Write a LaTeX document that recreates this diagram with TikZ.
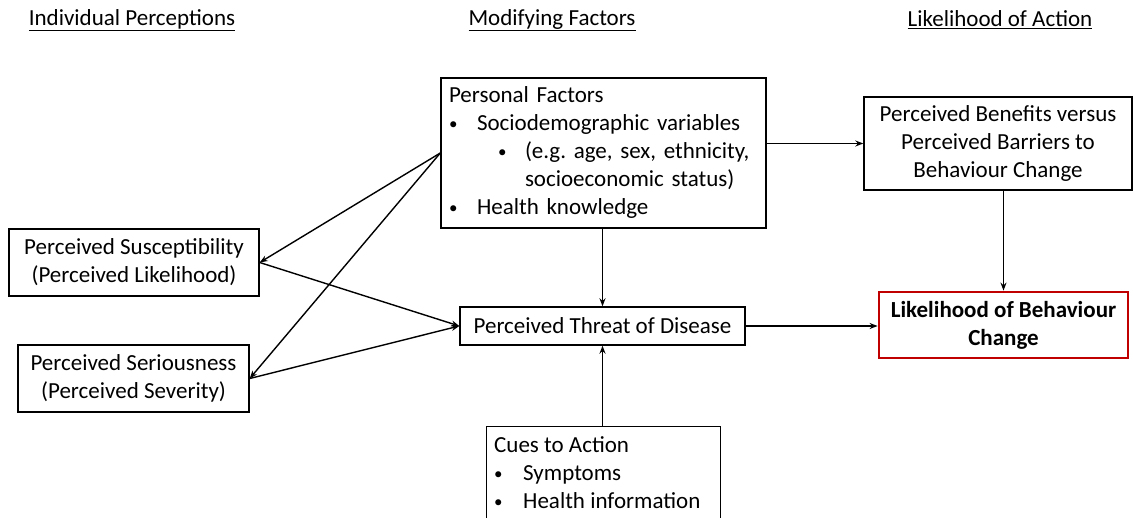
\documentclass[tikz,border=0pt]{standalone}
\usepackage{fontspec}
\setmainfont{Carlito}
\usetikzlibrary{arrows.meta,calc}
\newcommand\blt[1]{\makebox[#1pt][l]{\raisebox{1pt}{\fontsize{17}{17}\selectfont\textbullet}}}
\definecolor{hbmred}{RGB}{192,0,0}
\begin{document}
\frenchspacing
\begin{tikzpicture}[x=1pt,y=-1pt,
  every node/.style={font=\fontsize{23}{28}\selectfont, inner sep=0pt},
  box/.style={draw=black, line width=1.4pt, inner xsep=8pt, inner ysep=4pt},
  arr/.style={line width=1.4pt, -{Stealth[length=8pt,width=6pt]}},
  hdr/.style={anchor=center}]
\clip (0,0) rectangle (1133,518);
\fill[white] (0,0) rectangle (1133,518);
% headers
\node[hdr] (h1) at (132,20) {\underline{Individual Perceptions}};
\node[hdr] (h2) at (552,20) {\underline{Modifying Factors}};
\node[hdr] (h3) at (1000,20) {\underline{Likelihood of Action}};
% boxes
\node[box, minimum width=325pt, minimum height=150pt, text width=309pt, align=left] (pf) at (603.5,153)
 {\begin{tabular}{@{}l@{}}
  Personal Factors\\
  \blt{28}Sociodemographic variables\\
  \hspace*{49pt}\blt{27}(e.g. age, sex, ethnicity,\\
  \hspace*{76pt}socioeconomic status)\\
  \blt{28}Health knowledge
  \end{tabular}};
\node[box, minimum width=268pt, minimum height=93pt, align=center] (ben) at (998,143.5)
 {Perceived Benefits versus\\Perceived Barriers to\\Behaviour Change};
\node[box, draw=hbmred, line width=2.8pt, minimum width=249pt, minimum height=66pt, align=center, font=\fontsize{23}{28}\selectfont\bfseries] (lik) at (1003.5,325)
 {Likelihood of Behaviour\\Change};
\node[box, minimum width=285pt, minimum height=38pt] (thr) at (602.5,326) {Perceived Threat of Disease};
\node[box, minimum width=250pt, minimum height=67pt, align=center] (sus) at (134,262.5)
 {Perceived Susceptibility\\(Perceived Likelihood)};
\node[box, minimum width=231pt, minimum height=67pt, align=center] (ser) at (133.5,378.5)
 {Perceived Seriousness\\(Perceived Severity)};
\node[box, minimum width=234pt, minimum height=110pt, anchor=north west] (cues) at (486,426) {};
\node[anchor=north west, align=left] (cuestxt) at (494,436)
 {Cues to Action\\
  \blt{29}Symptoms\\
  \blt{29}Health information};
% connectors
\draw[arr] (pf.west) -- (sus.east);
\draw[arr] (pf.west) -- (ser.east);
\draw[arr] (sus.east) -- (thr.west);
\draw[arr] (ser.east) -- (thr.west);
\draw[arr] (thr.north |- pf.south) -- (thr.north);
\draw[arr] (thr.south |- cues.north) -- (thr.south);
\draw[arr] (pf.east |- ben.west) -- (ben.west);
\draw[arr] (lik.north |- ben.south) -- (lik.north);
\draw[arr] (thr.east) -- (lik.west |- thr.east);
\end{tikzpicture}
\end{document}
